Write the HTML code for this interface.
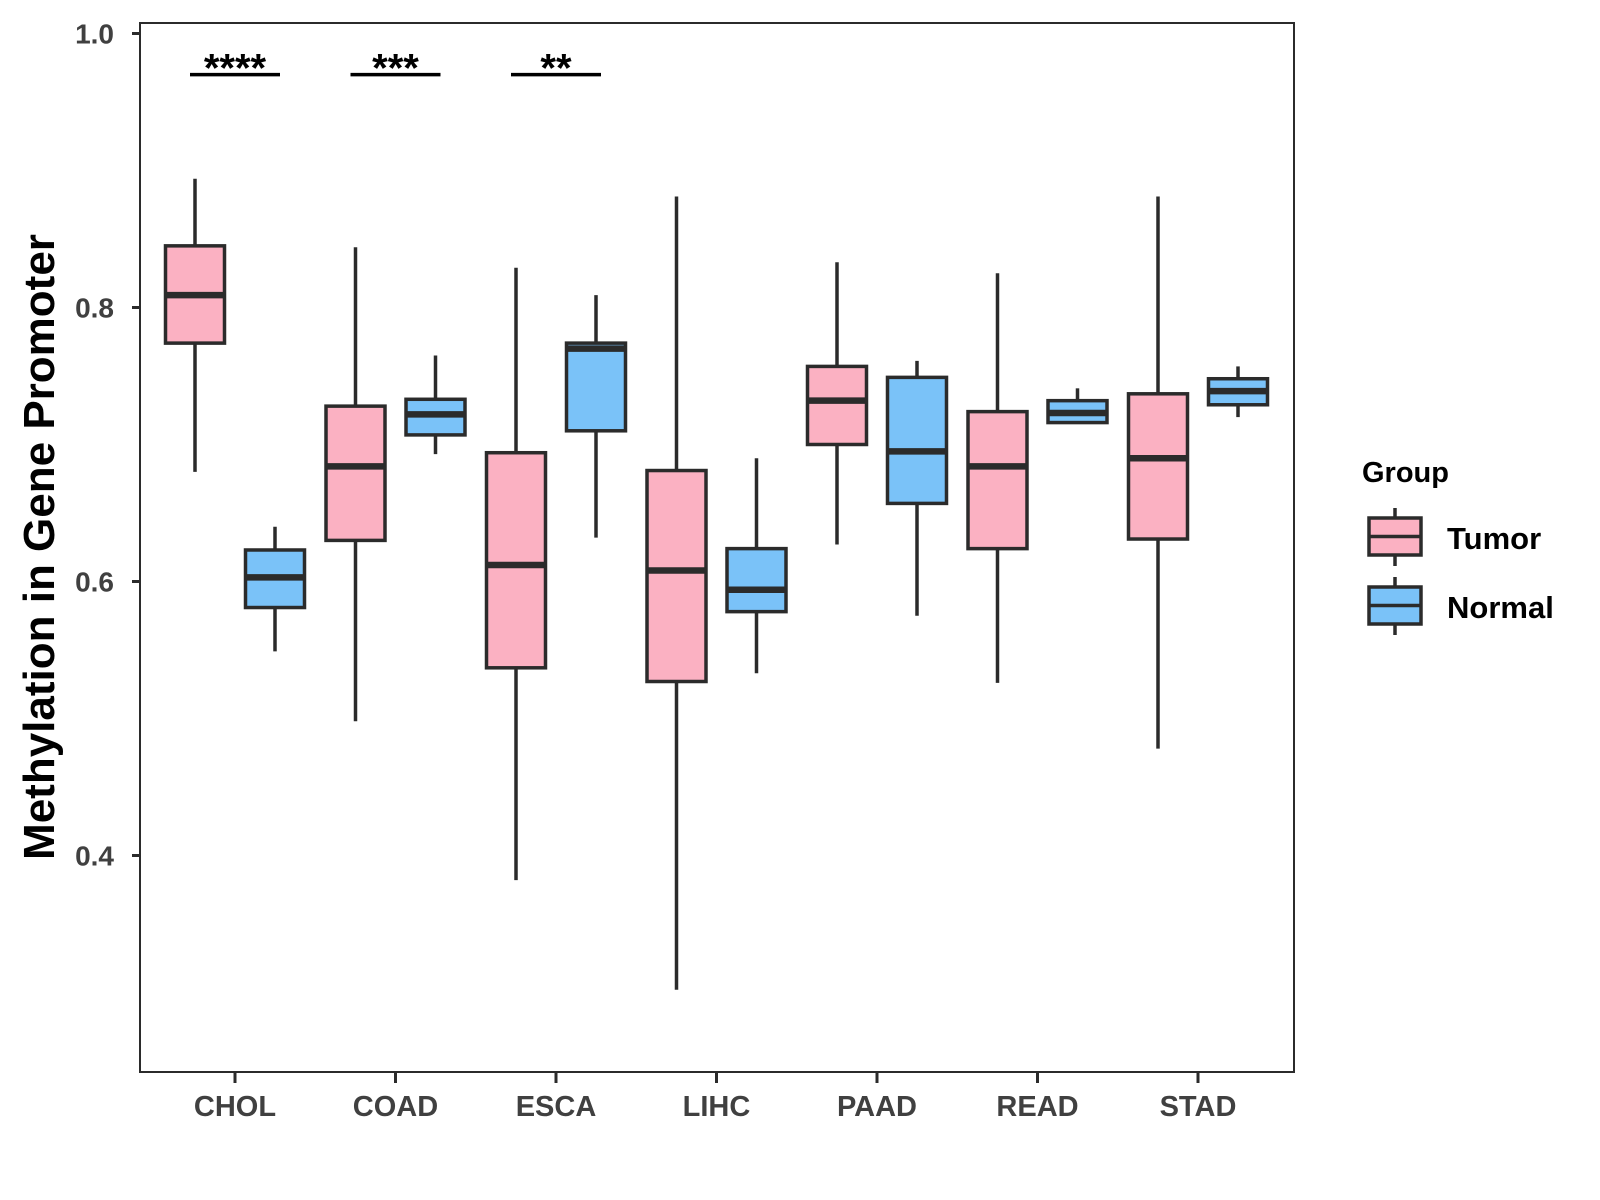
<!DOCTYPE html>
<html><head><meta charset="utf-8"><style>
body{margin:0;background:#fff;}
svg{display:block;font-family:"Liberation Sans",Arial,sans-serif;}
</style></head><body>
<svg id="chart" width="1600" height="1200" viewBox="0 0 1600 1200">
<g id="plot"></g>
<text x="54" y="547" transform="rotate(-90 54 547)" text-anchor="middle" font-size="44" font-weight="bold" fill="#000">Methylation in Gene Promoter</text>
<g id="legend"></g>
</svg>
<script>
const categories=["CHOL","COAD","ESCA","LIHC","PAAD","READ","STAD"];
const groups=["Tumor","Normal"];
const tumorLow=[0.680,0.498,0.382,0.302,0.627,0.526,0.478];
const tumorQ1=[0.774,0.630,0.537,0.527,0.700,0.624,0.631];
const tumorMed=[0.809,0.684,0.612,0.608,0.732,0.684,0.690];
const tumorQ3=[0.845,0.728,0.694,0.681,0.757,0.724,0.737];
const tumorHigh=[0.894,0.844,0.829,0.881,0.833,0.825,0.881];
const normalLow=[0.549,0.693,0.632,0.533,0.575,0.716,0.720];
const normalQ1=[0.581,0.707,0.710,0.578,0.657,0.716,0.729];
const normalMed=[0.603,0.722,0.770,0.594,0.695,0.723,0.739];
const normalQ3=[0.623,0.733,0.774,0.624,0.749,0.732,0.748];
const normalHigh=[0.640,0.765,0.809,0.690,0.761,0.741,0.757];
const yTicks=[0.4,0.6,0.8,1.0];
const yTickLabels=["0.4","0.6","0.8","1.0"];
const sigCategories=["CHOL","COAD","ESCA"];
const sigLabels=["****","***","**"];
const sigY=0.970;

const NS="http://www.w3.org/2000/svg";
const L=140,R=1294,T=23,B=1072;
const yS=v=>33.5+(1-v)*1370;
const xS=i=>235+i*160.5;
const g=document.getElementById('plot');
function mk(tag,attrs,parent){const e=document.createElementNS(NS,tag);for(const k in attrs)e.setAttribute(k,attrs[k]);(parent||g).appendChild(e);return e;}
const ink="#2b2b2b";

yTicks.forEach((v,i)=>{
  const t=mk('line',{x1:L-8,x2:L,y1:yS(v),y2:yS(v),stroke:ink,'stroke-width':3});
  
  
  const tx=mk('text',{x:L-26,y:yS(v)+10,'text-anchor':'end','font-size':28,'font-weight':'bold',fill:'#404040'});
  tx.textContent=yTickLabels[i];
  
  
});
categories.forEach((c,i)=>{
  const t=mk('line',{x1:xS(i),x2:xS(i),y1:B,y2:B+11,stroke:ink,'stroke-width':3});
  
  
  const tx=mk('text',{x:xS(i),y:B+44,'text-anchor':'middle','font-size':29,'font-weight':'bold',fill:'#404040'});
  tx.textContent=c;
  
  
});

function box(cx,lo,q1,md,q3,hi,fill,name){
  const w=59;
  const wh=mk('line',{x1:cx,x2:cx,y1:yS(hi),y2:yS(lo),stroke:ink,'stroke-width':3.5});
  
  
  const r=mk('rect',{x:cx-w/2,y:yS(q3),width:w,height:yS(q1)-yS(q3),fill:fill,stroke:ink,'stroke-width':3.5});
  
  
  const m=mk('line',{x1:cx-w/2,x2:cx+w/2,y1:yS(md),y2:yS(md),stroke:ink,'stroke-width':6.5});
  
  
}
categories.forEach((c,i)=>{
  box(xS(i)-40,tumorLow[i],tumorQ1[i],tumorMed[i],tumorQ3[i],tumorHigh[i],'#fbb1c2','tumor-'+c.toLowerCase());
  box(xS(i)+40,normalLow[i],normalQ1[i],normalMed[i],normalQ3[i],normalHigh[i],'#7ac2f8','normal-'+c.toLowerCase());
});
sigCategories.forEach((c,k)=>{
  const i=categories.indexOf(c);
  const l=mk('line',{x1:xS(i)-45,x2:xS(i)+45,y1:yS(sigY),y2:yS(sigY),stroke:'#000','stroke-width':3.5});
  
  
  const t=mk('text',{x:xS(i),y:yS(sigY)+7,'text-anchor':'middle','font-size':40,'font-weight':'bold',fill:'#000'});
  t.textContent=sigLabels[k];
  
  
});
const fr=mk('rect',{x:L,y:T,width:R-L,height:B-T,fill:'none',stroke:ink,'stroke-width':2});



const lg=document.getElementById('legend');
const title=mk('text',{x:1362,y:482,'font-size':29,'font-weight':'bold',fill:'#000'},lg);
title.textContent='Group';


const items=[["Tumor","#fbb1c2",518],["Normal","#7ac2f8",587]];
items.forEach(([lab,col,y])=>{
  const w=mk('line',{x1:1395,x2:1395,y1:y-10,y2:y+48,stroke:ink,'stroke-width':3.5},lg);
  
  
  const r=mk('rect',{x:1369,y:y,width:52,height:37,fill:col,stroke:ink,'stroke-width':3.5},lg);
  
  
  const m=mk('line',{x1:1369,x2:1421,y1:y+18.5,y2:y+18.5,stroke:ink,'stroke-width':3.5},lg);
  
  
  const tx=mk('text',{x:1447,y:y+31,'font-size':31,'font-weight':'bold',fill:'#000'},lg);
  tx.textContent=lab;
  
  
});
</script>
</body></html>
